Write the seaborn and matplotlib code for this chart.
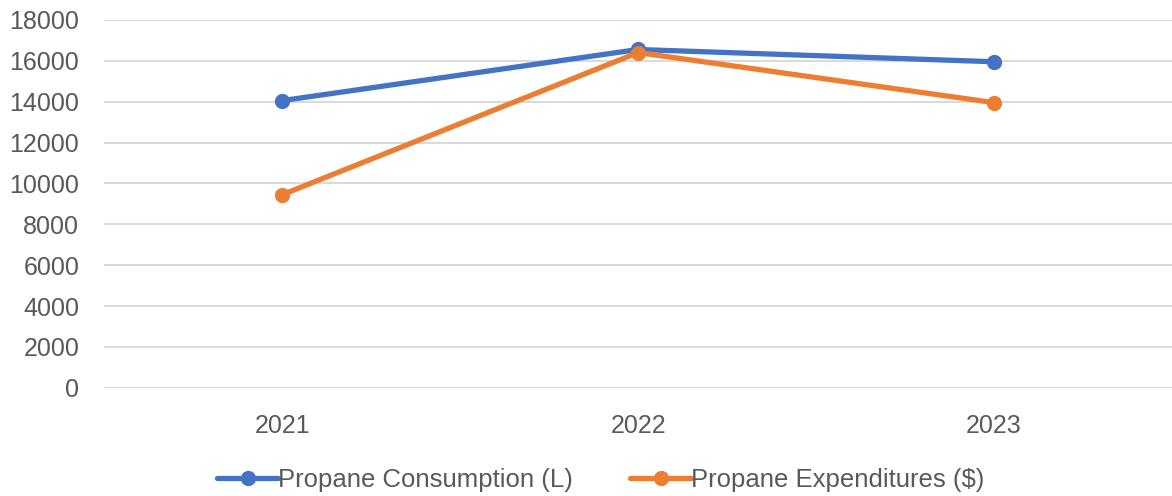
import matplotlib
matplotlib.use("Agg")
import matplotlib.pyplot as plt
import seaborn as sns
import pandas as pd

years = ["2021", "2022", "2023"]
consumption = [14050, 16550, 15950]
expenditures = [9450, 16400, 13950]
series_names = ["Propane Consumption (L)", "Propane Expenditures ($)"]
colors = ["#4472C4", "#ED7D31"]
y_ticks = list(range(0, 18001, 2000))

df = pd.DataFrame({
    "Year": years * 2,
    "Value": consumption + expenditures,
    "Series": [series_names[0]] * 3 + [series_names[1]] * 3,
})

sns.set_theme(style="white")
plt.rcParams["font.family"] = ["Liberation Sans", "DejaVu Sans"]
text_color = "#595959"

fig = plt.figure(figsize=(11.72, 4.96), dpi=100)
ax = fig.add_axes([0.089, 0.218, 0.911, 0.742])

sns.lineplot(data=df, x="Year", y="Value", hue="Series", palette=colors,
             marker="o", markersize=11, markeredgewidth=0, linewidth=3.8,
             sort=False, ax=ax, zorder=3)

ax.set_xlim(-0.5, 2.5)
ax.set_ylim(0, 18000)
ax.set_yticks(y_ticks)
ax.set_yticklabels([str(v) for v in y_ticks])
ax.yaxis.grid(True, color="#d9d9d9", linewidth=1.4)
ax.set_axisbelow(True)
for s in ax.spines.values():
    s.set_visible(False)
ax.tick_params(axis="both", length=0, labelsize=18, colors=text_color)
ax.tick_params(axis="x", pad=19)
ax.tick_params(axis="y", pad=18)
ax.set_xlabel("")
ax.set_ylabel("")

handles, labels = ax.get_legend_handles_labels()
ax.legend(handles, labels, loc="center", bbox_to_anchor=(0.465, -0.251),
          ncol=2, frameon=False, fontsize=18.5, labelcolor=text_color,
          handlelength=2.4, handletextpad=0.0, columnspacing=2.2)

fig.savefig("out.png", dpi=100, facecolor="white")
